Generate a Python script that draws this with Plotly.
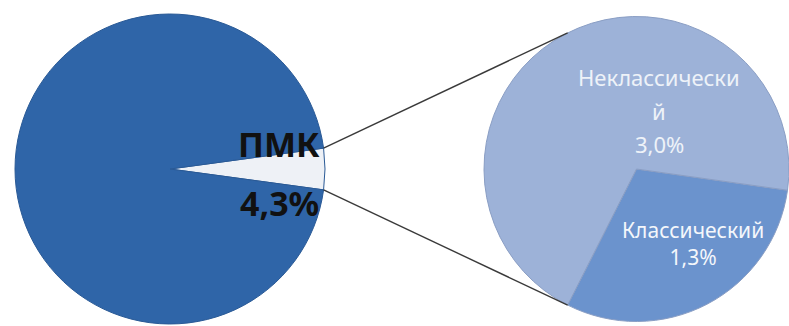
import math
import plotly.graph_objects as go

# --- data -------------------------------------------------------------
main_labels = ["ПМК", "Другие"]
main_values = [4.3, 95.7]
main_colors = ["#eef1f6", "#2f65a8"]

sub_labels = ["Классический", "Неклассический"]
sub_values = [1.3, 3.0]
sub_colors = ["#6b93cd", "#9db2d8"]

W, H = 789, 326

# pie geometry in pixels (centre x, centre y, radius)
L_CX, L_CY, L_R = 170.0, 169.0, 155.0
R_CX, R_CY, R_R = 636.5, 169.0, 152.5
SUB_START = 98.0  # clockwise from 12 o'clock, where the first sub-slice starts


def px_x(x):
    return x / W


def px_y(y):
    return 1 - y / H


def domain(cx, cy, r):
    return dict(x=[px_x(cx - r), min(1.0, px_x(cx + r))],
                y=[px_y(cy + r), px_y(cy - r)])


def pct(v):
    return f"{v:.1f}%".replace(".", ",")


share = main_values[0] / sum(main_values)
half_angle = share * 360 / 2

fig = go.Figure()

# counterclockwise: the first slice spans [rotation, rotation + size] clockwise,
# so centre it on 3 o'clock
fig.add_trace(go.Pie(
    labels=main_labels, values=main_values, sort=False,
    direction="counterclockwise", rotation=90 - half_angle,
    marker=dict(colors=main_colors, line=dict(color="#2a5a96", width=1)),
    textinfo="none", hoverinfo="label+percent",
    domain=domain(L_CX, L_CY, L_R),
))

fig.add_trace(go.Pie(
    labels=sub_labels, values=sub_values, sort=False,
    direction="clockwise", rotation=SUB_START,
    marker=dict(colors=sub_colors, line=dict(color="#8a9ec4", width=1)),
    textinfo="none", hoverinfo="label+value",
    domain=domain(R_CX, R_CY, R_R),
))

# connector lines: edges of the small slice -> boundary of the second pie
sub_end = SUB_START - 90 + sub_values[0] / sum(sub_values) * 360  # deg below 3 o'clock
for sign in (-1, 1):
    a = math.radians(half_angle)
    x0 = L_CX + L_R * math.cos(a)
    y0 = L_CY + sign * L_R * math.sin(a)
    b = math.radians(sub_end)
    x1 = R_CX + R_R * math.cos(b)
    y1 = R_CY + sign * R_R * math.sin(b)
    fig.add_shape(type="line", xref="paper", yref="paper",
                  x0=px_x(x0), y0=px_y(y0), x1=px_x(x1), y1=px_y(y1),
                  line=dict(color="#3a3a3a", width=1.4))

annotations = []


def label(text, x, y, size, color, bold=False):
    annotations.append(dict(
        text=f"<b>{text}</b>" if bold else text,
        x=px_x(x), y=px_y(y), xref="paper", yref="paper",
        xanchor="center", yanchor="middle", showarrow=False,
        font=dict(family="Noto Sans", size=size, color=color),
    ))


# main pie label
label(main_labels[0], 279, 144, 34, "#111111", bold=True)
label(pct(main_values[0]), 279, 203, 34, "#111111", bold=True)

# second pie labels (the long word wraps onto a second line)
word = sub_labels[1]
label(word[:-1], 659, 77, 22, "#eef2f8")
label(word[-1], 659, 111, 22, "#eef2f8")
label(pct(sub_values[1]), 659, 144, 22, "#eef2f8")

label(f"{sub_labels[0]}<br>{pct(sub_values[0])}", 693, 243, 21, "#f4f7fb")

fig.update_layout(
    width=W, height=H, margin=dict(l=0, r=0, t=0, b=0),
    paper_bgcolor="white", plot_bgcolor="white",
    showlegend=False, annotations=annotations,
)

fig.write_html("out.html")
